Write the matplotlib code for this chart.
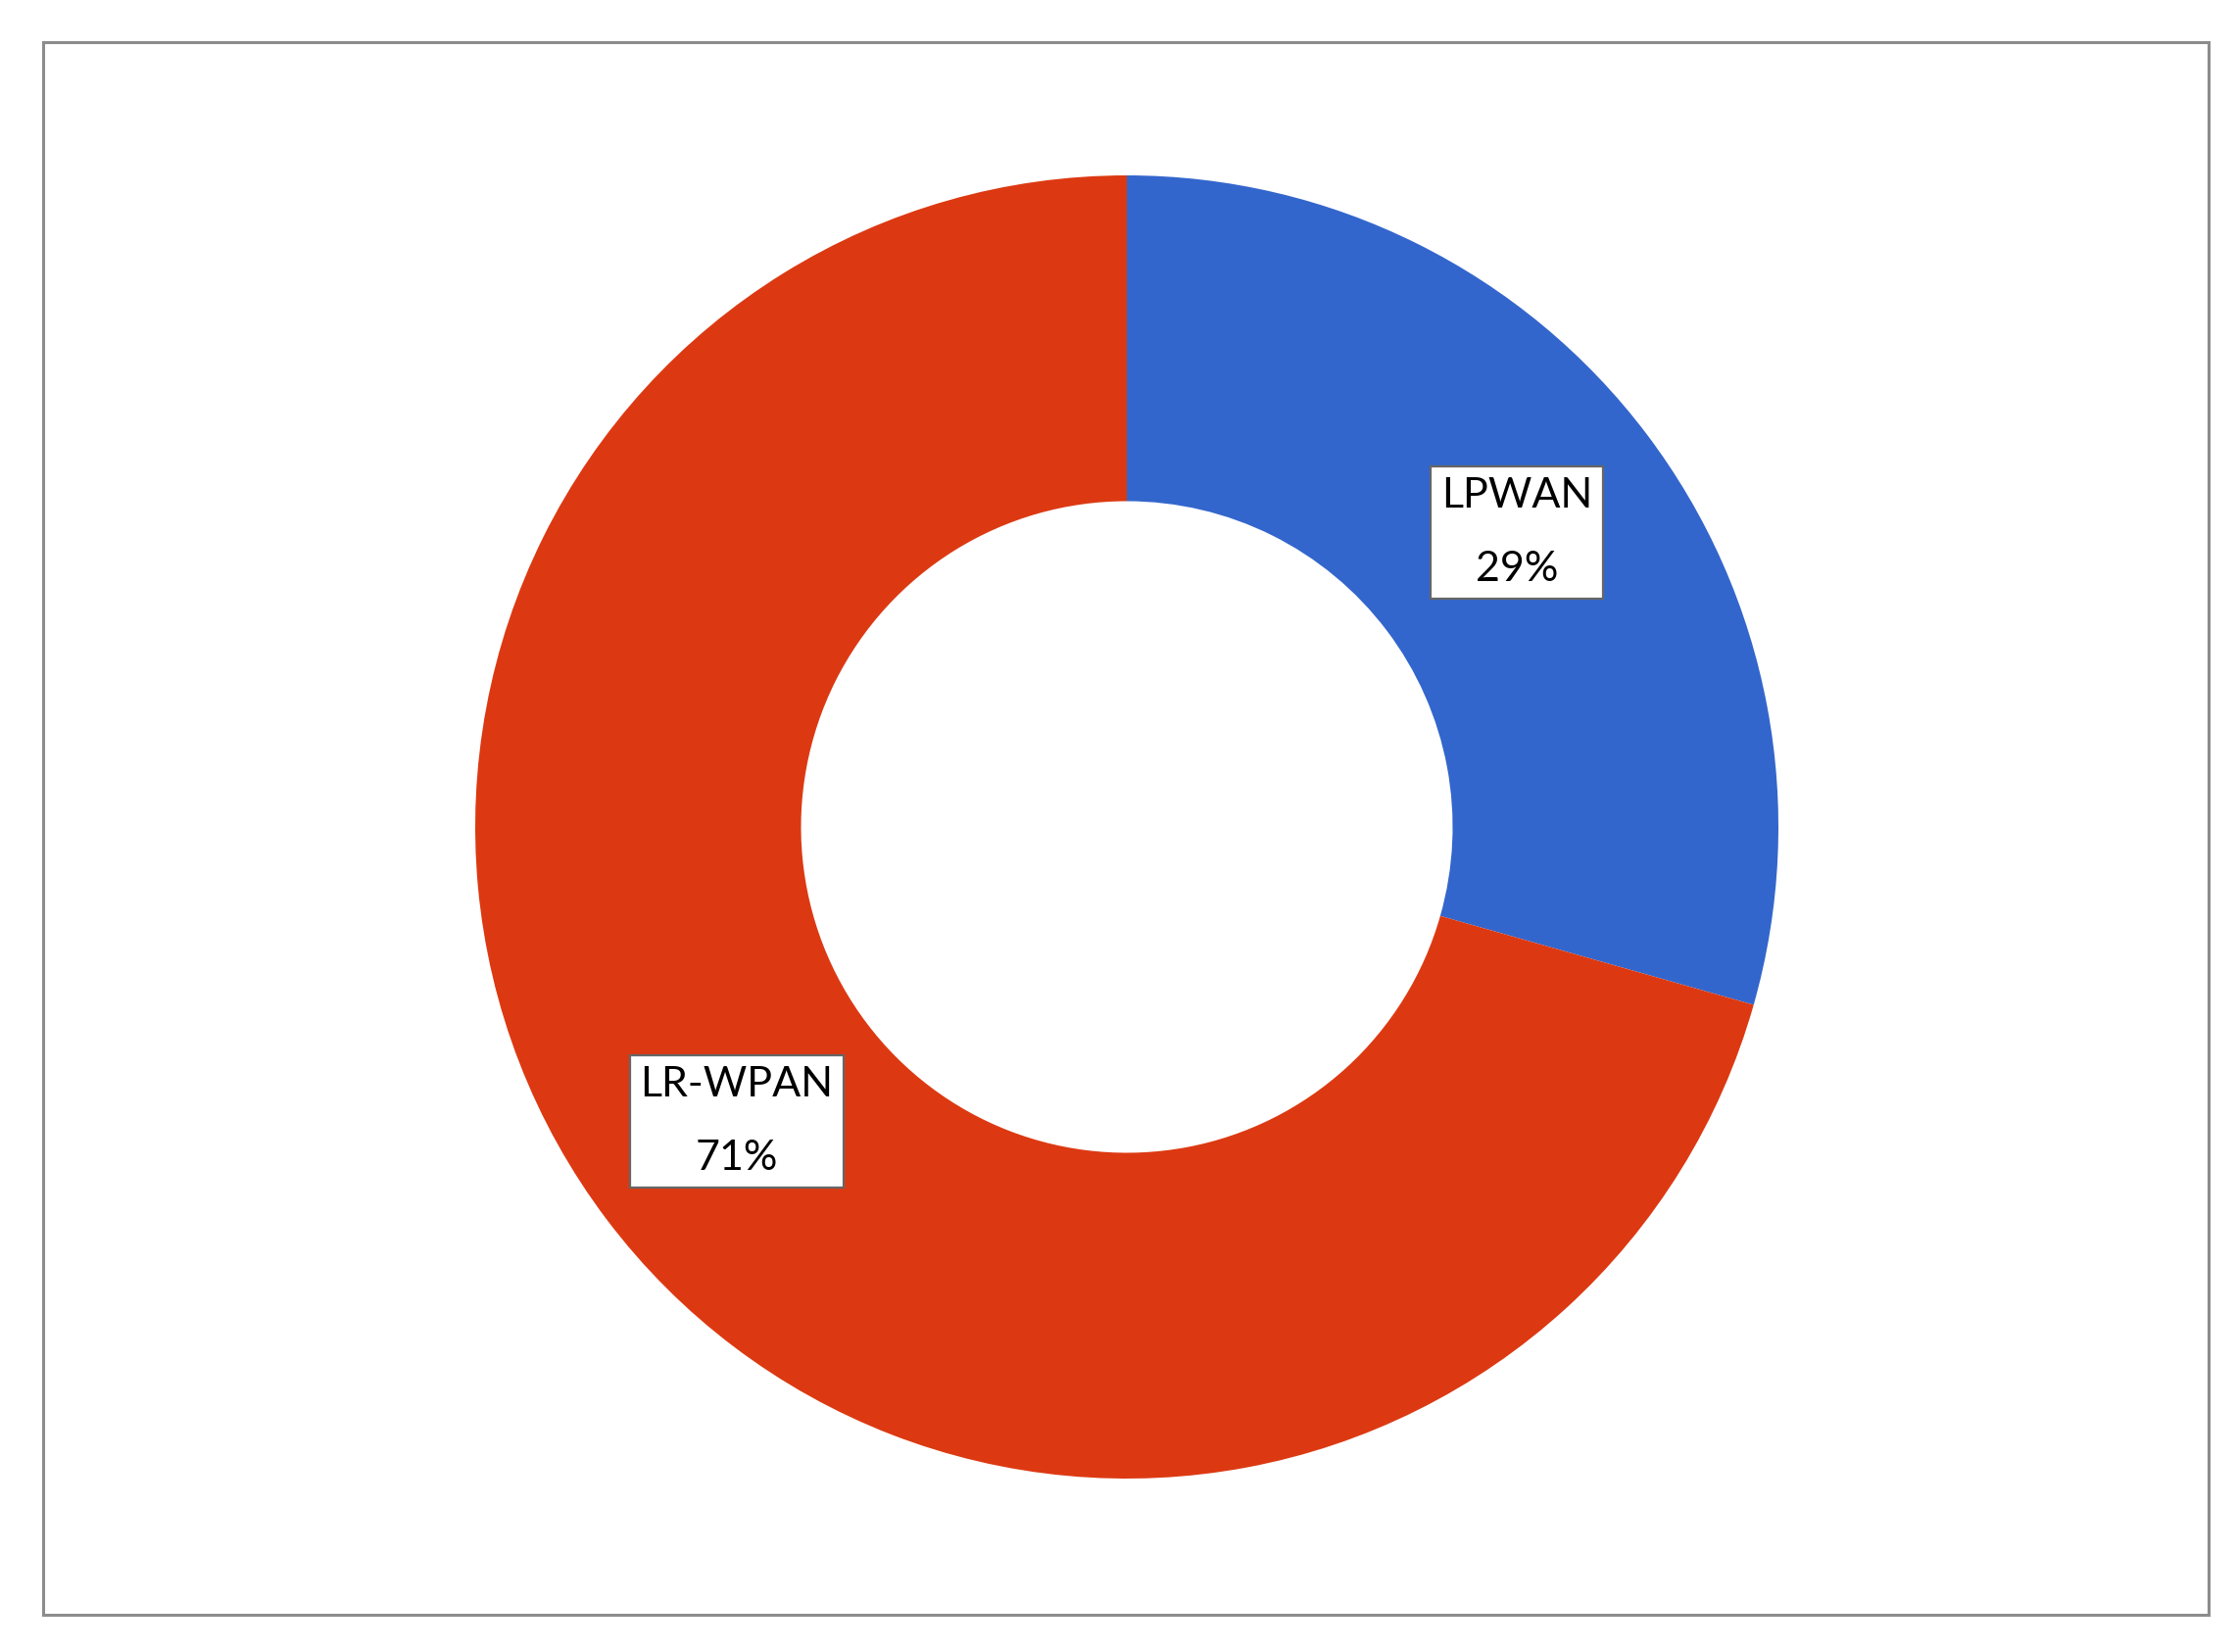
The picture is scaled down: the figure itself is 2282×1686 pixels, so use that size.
import numpy as np
import matplotlib
matplotlib.use("Agg")
import matplotlib.pyplot as plt
from matplotlib.patches import Rectangle

# data
categories = ["LPWAN", "LR-WPAN"]
shares = [29.4, 70.6]
pct_labels = ["29%", "71%"]
colors = ["#3366CC", "#DC3912"]

plt.rcParams['font.family'] = ['Lato', 'DejaVu Sans']

fig = plt.figure(figsize=(22.82, 16.86), dpi=100)
fig.patch.set_facecolor("white")

# outer chart frame
fig.patches.append(Rectangle((44 / 2282, 38 / 1686), 2210 / 2282, 1605 / 1686,
                             transform=fig.transFigure, fill=False,
                             edgecolor="#8c8c8c", linewidth=2.2))

# pie axes, centre at (1150, 844) px, radius 665 px
cx, cy, r = 1150 / 2282, 1 - 844 / 1686, 665
ax = fig.add_axes([cx - r / 2282, cy - r / 1686, 2 * r / 2282, 2 * r / 1686])
ax.axis("off")

wedges, _ = ax.pie(shares, colors=colors, startangle=90, counterclock=False,
                   radius=1, wedgeprops=dict(width=0.5, edgecolor="none"))
ax.set_xlim(-1, 1)
ax.set_ylim(-1, 1)

for w, name, pct in zip(wedges, categories, pct_labels):
    mid = np.deg2rad((w.theta1 + w.theta2) / 2)
    x, y = 0.75 * np.cos(mid), 0.75 * np.sin(mid)
    ax.text(x, y, f"{name}\n{pct}", ha="center", va="center", fontsize=31,
            linespacing=2.2, color="black",
            bbox=dict(boxstyle="square,pad=0.25", facecolor="white",
                      edgecolor="#666666", linewidth=1.6))

fig.savefig("out.png", dpi=100, facecolor="white")
